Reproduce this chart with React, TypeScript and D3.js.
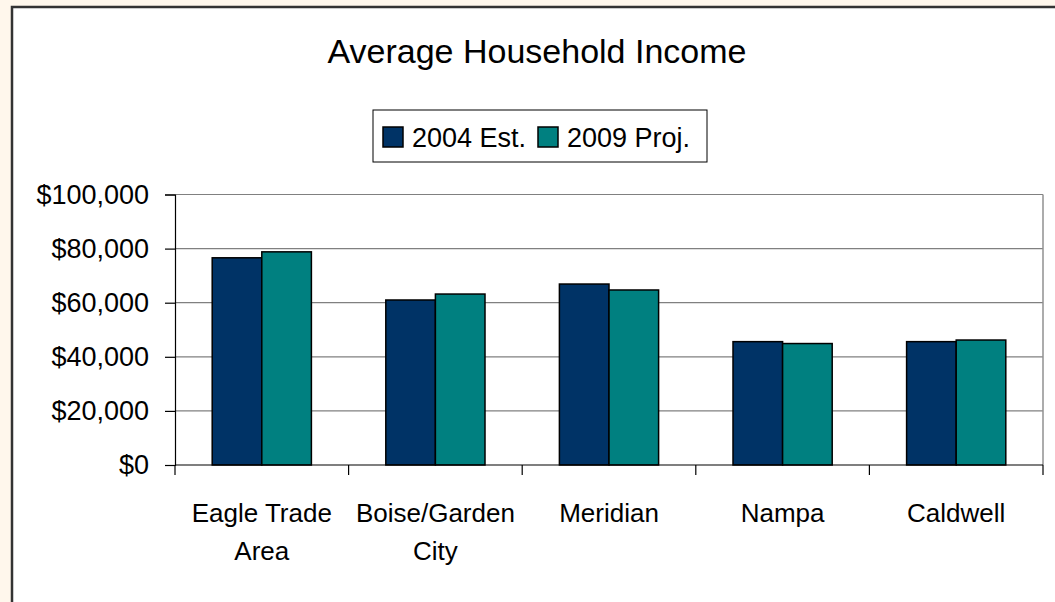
import React, { useEffect, useRef } from 'react';
import * as d3 from 'd3';

const categories = [['Eagle Trade', 'Area'], ['Boise/Garden', 'City'], ['Meridian'], ['Nampa'], ['Caldwell']];
const seriesNames = ['2004 Est.', '2009 Proj.'];
const est2004 = [76600, 61000, 66900, 45600, 45600];
const proj2009 = [78800, 63200, 64700, 44900, 46200];
const yTicks = [0, 20000, 40000, 60000, 80000, 100000];
const colors = ['#003366', '#008080'];

const W = 1055;
const H = 602;
const FONT = 'Liberation Sans, Arial, sans-serif';

export default function App() {
    const ref = useRef<SVGSVGElement>(null);

    useEffect(() => {
        const svg = d3.select(ref.current);
        svg.selectAll('*').remove();

        svg.append('rect').attr('width', W).attr('height', H).attr('fill', '#fff7ec');
        svg.append('rect')
            .attr('x', 12).attr('y', 7)
            .attr('width', W + 20).attr('height', H + 20)
            .attr('fill', '#fff')
            .attr('stroke', '#333').attr('stroke-width', 2.5);

        const left = 175, right = 1043, top = 194.5, bottom = 465;

        const x = d3.scaleBand<number>()
            .domain(d3.range(categories.length))
            .range([left, right])
            .paddingInner(0).paddingOuter(0);
        const bw = x.bandwidth() / 3.5;
        const y = d3.scaleLinear().domain([0, 100000]).range([bottom, top]);

        // gridlines
        svg.append('g').selectAll('line')
            .data(yTicks.filter(d => d > 0))
            .enter().append('line')
            .attr('x1', left).attr('x2', right)
            .attr('y1', d => y(d)).attr('y2', d => y(d))
            .attr('stroke', '#808080').attr('stroke-width', 1.2);
        svg.append('line')
            .attr('x1', right).attr('x2', right).attr('y1', top).attr('y2', bottom)
            .attr('stroke', '#909090').attr('stroke-width', 1.5);

        // bars
        const series = [est2004, proj2009];
        series.forEach((vals, si) => {
            svg.append('g').selectAll('rect')
                .data(vals)
                .enter().append('rect')
                .attr('x', (d, i) => (x(i) as number) + bw * 0.75 + si * bw)
                .attr('y', d => y(d))
                .attr('width', bw)
                .attr('height', d => bottom - y(d))
                .attr('fill', colors[si])
                .attr('stroke', '#000').attr('stroke-width', 1.5);
        });

        // y axis
        const yAxis = d3.axisLeft(y)
            .tickValues(yTicks)
            .tickSize(10)
            .tickPadding(16)
            .tickFormat(d => '$' + d3.format(',')(d as number));
        const ya = svg.append('g').attr('transform', `translate(${left},0)`).call(yAxis);
        ya.select('.domain').attr('stroke', '#000').attr('stroke-width', 1.2);
        ya.selectAll('.tick line').attr('stroke', '#000').attr('stroke-width', 1.2);
        ya.selectAll('.tick text')
            .attr('font-family', FONT)
            .attr('font-size', 27).attr('fill', '#000');

        // x axis
        const xa = svg.append('g');
        xa.append('line').attr('x1', left).attr('x2', right).attr('y1', bottom).attr('y2', bottom)
            .attr('stroke', '#000').attr('stroke-width', 1.2);
        xa.selectAll('line.tk')
            .data(d3.range(categories.length + 1))
            .enter().append('line')
            .attr('class', 'tk')
            .attr('x1', i => left + i * x.bandwidth()).attr('x2', i => left + i * x.bandwidth())
            .attr('y1', bottom).attr('y2', bottom + 10)
            .attr('stroke', '#000').attr('stroke-width', 1.2);
        const labels = xa.selectAll('text')
            .data(categories)
            .enter().append('text')
            .attr('x', (d, i) => (x(i) as number) + x.bandwidth() / 2)
            .attr('y', 522)
            .attr('text-anchor', 'middle')
            .attr('font-family', FONT)
            .attr('font-size', 26).attr('fill', '#000');
        labels.each(function (d) {
            const t = d3.select(this);
            const cx = t.attr('x');
            d.forEach((line, li) => {
                t.append('tspan').attr('x', cx).attr('dy', li === 0 ? 0 : 38).text(line);
            });
        });

        // title
        svg.append('text')
            .attr('x', 537).attr('y', 63)
            .attr('text-anchor', 'middle')
            .attr('font-family', FONT)
            .attr('font-size', 34).attr('fill', '#000')
            .text('Average Household Income');

        // legend
        const lg = svg.append('g');
        lg.append('rect').attr('x', 373).attr('y', 110).attr('width', 334).attr('height', 52)
            .attr('fill', '#fff').attr('stroke', '#000').attr('stroke-width', 1);
        const legendX = [383, 538];
        seriesNames.forEach((name, i) => {
            lg.append('rect').attr('x', legendX[i]).attr('y', 127).attr('width', 20).attr('height', 20)
                .attr('fill', colors[i]).attr('stroke', '#000').attr('stroke-width', 1.5);
            lg.append('text').attr('x', legendX[i] + 29).attr('y', 147)
                .attr('font-family', FONT)
                .attr('font-size', 27).attr('fill', '#000')
                .text(name);
        });
    }, []);

    return (
        <svg ref={ref} width={W} height={H} style={{ position: 'absolute', left: 0, top: 0 }} />
    );
}
